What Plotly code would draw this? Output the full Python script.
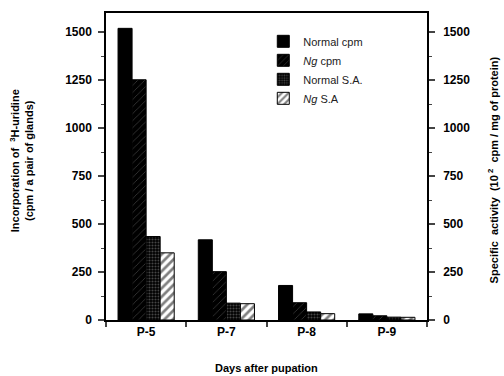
import plotly.graph_objects as go

days = ["P-5", "P-7", "P-8", "P-9"]
normal_cpm = [1520, 418, 180, 32]
ng_cpm = [1252, 252, 90, 22]
normal_sa = [435, 88, 42, 15]
ng_sa = [350, 85, 33, 14]

left_ticks = [0, 250, 500, 750, 1000, 1250, 1500]
right_ticks = [0, 250, 500, 750, 1000, 1250, 1500]

fig = go.Figure()
common = dict(alignmentgroup="g")
fig.add_trace(go.Bar(x=days, y=normal_cpm, name="Normal cpm", offsetgroup="1", **common,
                     marker=dict(color="black", line=dict(color="black", width=1))))
fig.add_trace(go.Bar(x=days, y=ng_cpm, name="<i>Ng</i> cpm", offsetgroup="2", **common,
                     marker=dict(color="black", line=dict(color="black", width=1),
                                 pattern=dict(shape="/", fgcolor="#7a7a7a", bgcolor="black",
                                              size=5, solidity=0.15))))
fig.add_trace(go.Bar(x=days, y=normal_sa, name="Normal S.A.", yaxis="y2", offsetgroup="3", **common,
                     marker=dict(color="black", line=dict(color="black", width=1),
                                 pattern=dict(shape=".", fgcolor="#8a8a8a", bgcolor="black",
                                              size=3, solidity=0.4))))
fig.add_trace(go.Bar(x=days, y=ng_sa, name="<i>Ng</i> S.A", yaxis="y2", offsetgroup="4", **common,
                     marker=dict(color="white", line=dict(color="black", width=1),
                                 pattern=dict(shape="/", fgcolor="black", bgcolor="white",
                                              size=6, solidity=0.45))))

fig.update_layout(
    width=504, height=376,
    margin=dict(l=106, r=77, t=11, b=56),
    paper_bgcolor="white", plot_bgcolor="white",
    barmode="group", bargap=0.3, bargroupgap=0,
    font=dict(family="Liberation Sans", color="black"),
    showlegend=True,
    legend=dict(x=0.49, y=0.955, xanchor="left", yanchor="top",
                font=dict(family="Liberation Sans", size=11, color="#222"),
                bgcolor="rgba(0,0,0,0)", itemwidth=30, tracegroupgap=0),
    xaxis=dict(tickson="boundaries", ticks="outside", ticklen=5, tickwidth=1.5,
               showline=True, linecolor="black", linewidth=1.5, mirror=True,
               tickfont=dict(family="Liberation Sans", size=12, color="black", weight="bold"),
               showgrid=False, range=[-0.5, 3.5]),
    yaxis=dict(range=[0, 1600], tickvals=left_ticks, ticks="outside", ticklen=6, tickwidth=1.5,
               showline=True, linecolor="black", linewidth=1.5, showgrid=False, zeroline=False,
               tickfont=dict(family="Liberation Sans", size=12, color="black", weight="bold"),
               minor=dict(dtick=125, ticks="outside", ticklen=3, tickwidth=1, showgrid=False),
               ticklabelstandoff=4),
    yaxis2=dict(range=[0, 1600], tickvals=right_ticks, overlaying="y", side="right",
                ticks="outside", ticklen=6, tickwidth=1.5,
                showline=True, linecolor="black", linewidth=1.5, showgrid=False, zeroline=False,
                tickfont=dict(family="Liberation Sans", size=12, color="black", weight="bold"),
                minor=dict(dtick=125, ticks="outside", ticklen=3, tickwidth=1, showgrid=False),
                ticklabelstandoff=6),
)

fig.add_annotation(text="<b>Days after pupation</b>", x=0.5, y=-0.155, xref="paper", yref="paper",
                   xanchor="center", yanchor="middle", showarrow=False,
                   font=dict(family="Liberation Sans", size=11, color="black"))
fig.add_annotation(text="<b>Incorporation of  <sup>3</sup>H-uridine<br>(cpm / a pair of glands)</b>",
                   x=-0.262, y=0.52, xref="paper", yref="paper", textangle=-90,
                   xanchor="center", yanchor="middle", showarrow=False,
                   font=dict(family="Liberation Sans", size=11, color="black"))
fig.add_annotation(text="<b>Specific  activity  (10<sup> 2</sup>  cpm / mg of protein)</b>",
                   x=1.205, y=0.49, xref="paper", yref="paper", textangle=-90,
                   xanchor="center", yanchor="middle", showarrow=False,
                   font=dict(family="Liberation Sans", size=11, color="black"))

fig.write_html("out.html")
